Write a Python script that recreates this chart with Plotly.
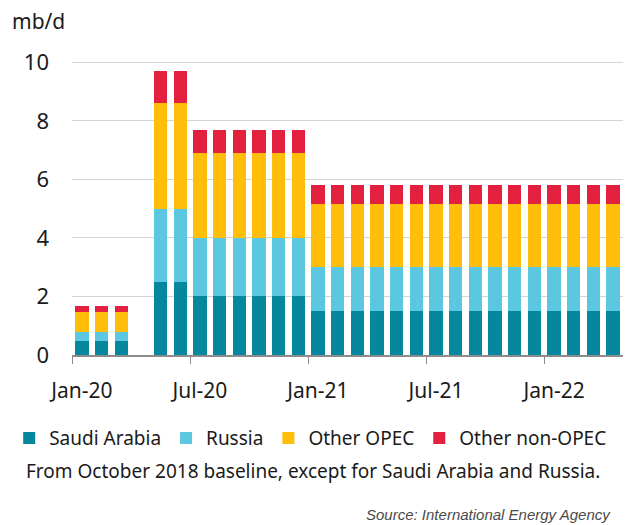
import plotly.graph_objects as go

months = ["Jan-20", "Feb-20", "Mar-20", "Apr-20", "May-20", "Jun-20", "Jul-20", "Aug-20",
          "Sep-20", "Oct-20", "Nov-20", "Dec-20", "Jan-21", "Feb-21", "Mar-21", "Apr-21",
          "May-21", "Jun-21", "Jul-21", "Aug-21", "Sep-21", "Oct-21", "Nov-21", "Dec-21",
          "Jan-22", "Feb-22", "Mar-22", "Apr-22"]

saudi = [0.47, 0.47, 0.47, None, 2.5, 2.5] + [2.0] * 6 + [1.5] * 16
russia = [0.3, 0.3, 0.3, None, 2.5, 2.5] + [2.0] * 6 + [1.5] * 16
other_opec = [0.71, 0.71, 0.71, None, 3.6, 3.6] + [2.9] * 6 + [2.15] * 16
other_non_opec = [0.2, 0.2, 0.2, None, 1.1, 1.1] + [0.8] * 6 + [0.65] * 16

series = [
    ("Saudi Arabia", saudi, "#05889E"),
    ("Russia", russia, "#5CC7E0"),
    ("Other OPEC", other_opec, "#FFBE0A"),
    ("Other non-OPEC", other_non_opec, "#E3203E"),
]

y_ticks = [0, 2, 4, 6, 8, 10]

FONT = "Noto Sans"

fig = go.Figure()
for name, vals, color in series:
    fig.add_trace(go.Bar(x=months, y=vals, name=name, marker=dict(color=color, line=dict(width=0))))

fig.update_layout(
    barmode="stack",
    bargap=0.32,
    width=643,
    height=525,
    margin=dict(l=64, r=28, t=47, b=178, autoexpand=False),
    paper_bgcolor="white",
    plot_bgcolor="white",
    font=dict(family=FONT, size=21, color="#1a1a1a"),
    showlegend=True,
    legend=dict(
        orientation="h",
        traceorder="normal",
        x=-0.114, xanchor="left",
        y=-0.277, yanchor="middle",
        font=dict(size=19, family=FONT, color="#1a1a1a"),
        itemwidth=30,
        tracegroupgap=0,
    ),
    xaxis=dict(
        type="category",
        categoryorder="array",
        categoryarray=months,
        tickmode="linear",
        tick0=0,
        dtick=6,
        tickangle=0,
        tickson="boundaries",
        ticks="outside",
        ticklen=7,
        tickcolor="#8c8c8c",
        showline=True,
        linecolor="#8c8c8c",
        linewidth=1.5,
        showgrid=False,
        ticklabelstandoff=16,
        tickfont=dict(size=21, family=FONT, color="#1a1a1a"),
        range=[-0.5, 27.5],
    ),
    yaxis=dict(
        range=[0, 10.25],
        tickvals=y_ticks,
        showgrid=True,
        gridcolor="#d4d4d4",
        gridwidth=1,
        zeroline=False,
        showline=False,
        ticks="",
        tickfont=dict(size=22, family=FONT, color="#1a1a1a"),
        ticklabelstandoff=22,
    ),
    annotations=[
        dict(text="mb/d", xref="paper", yref="paper", x=-0.113, y=1.165,
             xanchor="left", yanchor="top", showarrow=False,
             font=dict(size=21, family=FONT, color="#1a1a1a")),
        dict(text="From October 2018 baseline, except for Saudi Arabia and Russia.",
             xref="paper", yref="paper", x=-0.087, y=-0.385,
             xanchor="left", yanchor="middle", showarrow=False,
             font=dict(size=19, family=FONT, color="#1a1a1a")),
        dict(text="<i>Source: International Energy Agency</i>",
             xref="paper", yref="paper", x=0.981, y=-0.53,
             xanchor="right", yanchor="middle", showarrow=False,
             font=dict(size=15, family="Liberation Sans", color="#4a4a4a")),
    ],
)

fig.write_html("out.html")
